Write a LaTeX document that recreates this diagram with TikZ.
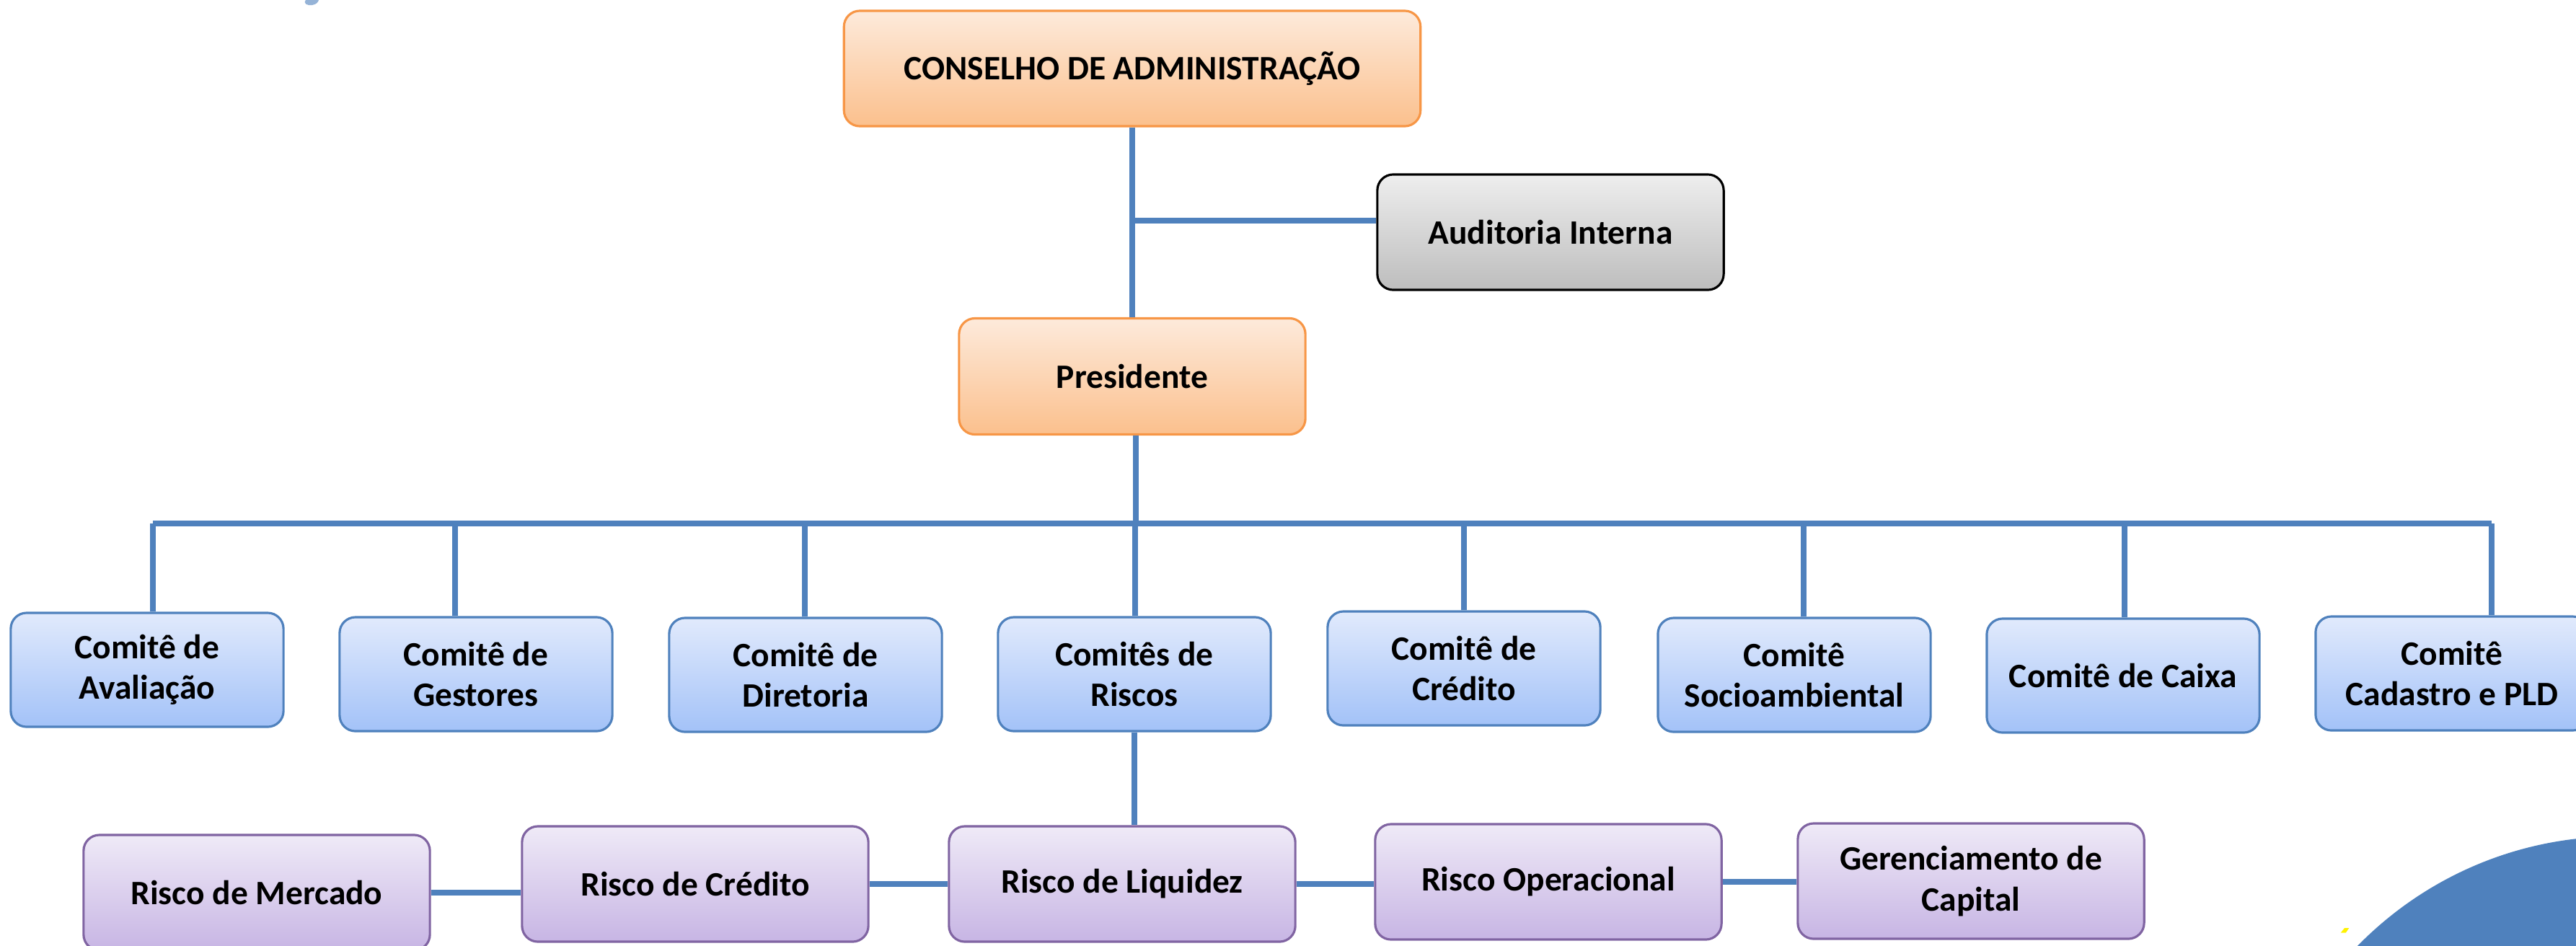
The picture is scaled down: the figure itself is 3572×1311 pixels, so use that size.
\documentclass[tikz,border=0pt]{standalone}
\usepackage{fontspec}
\setmainfont{Carlito}
\usepackage{tikz}
\usetikzlibrary{positioning}
\definecolor{linkColor}{HTML}{4F81BD}
\definecolor{orangeLine}{HTML}{F79646}
\definecolor{orangeTop}{HTML}{FDEADB}
\definecolor{orangeBottom}{HTML}{FBC08D}
\definecolor{blueLine}{HTML}{4F81BD}
\definecolor{blueTop}{HTML}{E1EAFC}
\definecolor{blueBottom}{HTML}{A3C2F8}
\definecolor{purpleLine}{HTML}{8064A2}
\definecolor{purpleTop}{HTML}{EFEAF7}
\definecolor{purpleBottom}{HTML}{C7B5E4}
\definecolor{grayTop}{HTML}{EEEEEE}
\definecolor{grayBottom}{HTML}{BDBDBD}
\definecolor{titleBlue}{HTML}{95B3D7}
\tikzstyle{orgChart} = [x = 0.01cm, y = -0.01cm]
\tikzstyle{boxText} = [font=\fontsize{13.5}{16}\selectfont\bfseries, align=center, rounded corners = .22cm, line width=0.9pt, inner sep=0pt]
\tikzstyle{boardBox} = [boxText, draw=orangeLine, top color=orangeTop, bottom color=orangeBottom, minimum width=4.8cm, minimum height=1.6cm]
\tikzstyle{auditBox} = [boxText, draw=black, top color=grayTop, bottom color=grayBottom, minimum width=4.8cm, minimum height=1.6cm]
\tikzstyle{committeeBox} = [boxText, draw=blueLine, top color=blueTop, bottom color=blueBottom, minimum width=3.78cm, minimum height=1.58cm]
\tikzstyle{riskBox} = [boxText, draw=purpleLine, top color=purpleTop, bottom color=purpleBottom, minimum width=4.8cm, minimum height=1.6cm]
\tikzstyle{linkLine} = [color=linkColor, line width=2.3pt]

\begin{document}
\begin{tikzpicture}[orgChart]
  \path [use as bounding box] (0,0) rectangle (3572,1311);
  \clip (0,0) rectangle (3572,1311);

  % background bits
  \fill [linkColor] (3630,1665) circle (505);
  \fill [yellow] (3245.7,1293.7) -- (3251,1287) -- (3257.3,1287) -- (3252.7,1293.7) -- cycle;
  \fill [titleBlue] (424,0) .. controls (420,5) and (426,8) .. (433,7) .. controls (439,6) and (441,3) .. (442,0) -- cycle;

  % top of the chart
  \node [boardBox, minimum width=7.99cm] (conselho) at (1570,95) {CONSELHO DE ADMINISTRAÇÃO};
  \node [auditBox] (auditoria) at (2150,322) {Auditoria Interna};
  \node [boardBox, minimum height=1.61cm] (presidente) at (1570,522) {Presidente};

  % committees
  \foreach \name/\xpos/\ypos/\label in {
      cmt1/204/929/{Comitê de\\Avaliação},
      cmt2/660/935/{Comitê de\\Gestores},
      cmt3/1117/936/{Comitê de\\Diretoria},
      cmt4/1573/935/{Comitês de\\Riscos},
      cmt5/2030/927/{Comitê de\\Crédito},
      cmt6/2488/936/{Comitê\\Socioambiental},
      cmt7/2944/937/{Comitê de Caixa},
      cmt8/3400/934/{Comitê\\Cadastro e PLD}} {
    \node [committeeBox] (\name) at (\xpos,\ypos) {\label};
  }

  % risks
  \node [riskBox] (rMerc) at (356,1238) {Risco de Mercado};
  \node [riskBox] (rCred) at (964,1226) {Risco de Crédito};
  \node [riskBox] (rLiq) at (1556,1226) {Risco de Liquidez};
  \node [riskBox] (rOper) at (2147,1223) {Risco Operacional};
  \node [riskBox] (rGer) at (2733,1222) {Gerenciamento de\\Capital};

  % links
  \coordinate (auditJoin) at ([yshift=.16cm]auditoria.west);
  \draw [linkLine] (conselho.south) -- (presidente.north);
  \draw [linkLine] (conselho.south |- auditJoin) -- (auditJoin);
  \coordinate (busL) at (212,726);
  \coordinate (busR) at (3455,726);
  \draw [linkLine] (busL) -- (busR);
  \draw [linkLine] ([xshift=.05cm]presidente.south) -- ([xshift=.05cm]presidente.south |- busL);
  \foreach \xpos/\name in {212/cmt1, 631/cmt2, 1116/cmt3, 1574/cmt4, 2030/cmt5, 2501/cmt6, 2946/cmt7, 3455/cmt8} {
    \coordinate (drop) at (\xpos,726);
    \draw [linkLine] (drop) -- (drop |- \name.north);
  }
  \draw [linkLine] (cmt4.south) -- (cmt4.south |- rLiq.north);
  \draw [linkLine] (rMerc.east) -- (rMerc.east -| rCred.west);
  \draw [linkLine] (rCred.east) -- (rLiq.west);
  \draw [linkLine] (rLiq.east) -- (rLiq.east -| rOper.west);
  \draw [linkLine] (rOper.east) -- (rOper.east -| rGer.west);
\end{tikzpicture}
\end{document}
